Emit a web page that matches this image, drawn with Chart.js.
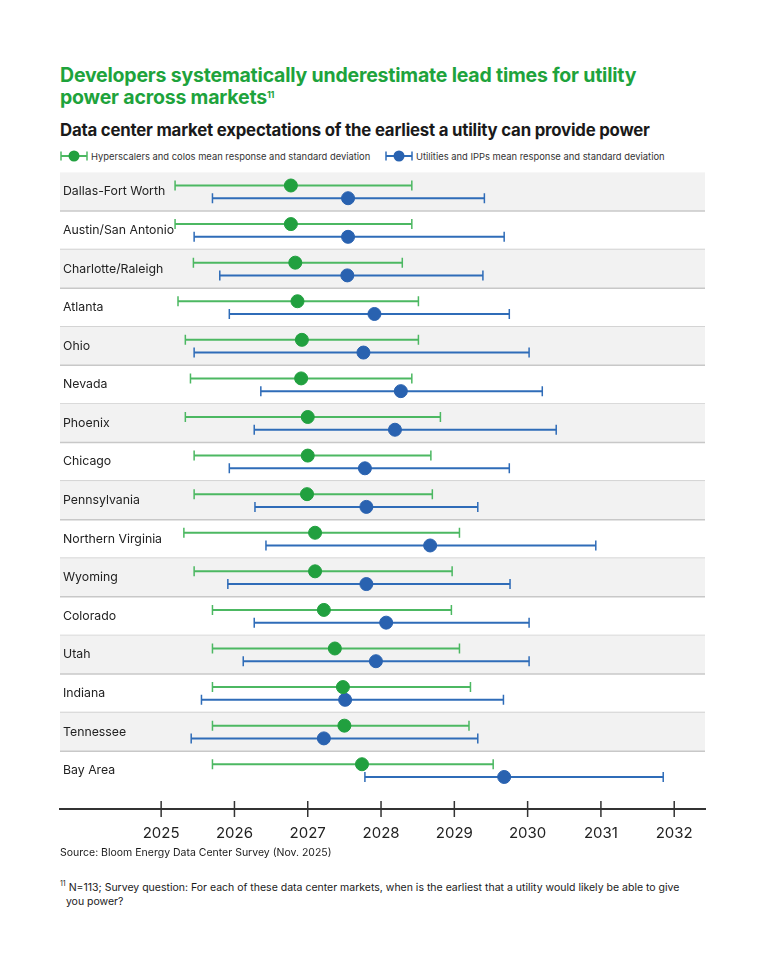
<!DOCTYPE html>
<html>
<head>
<meta charset="utf-8">
<script src="https://cdn.jsdelivr.net/npm/chart.js@4.4.1/dist/chart.umd.min.js"></script>
<style>
  body { margin: 0; background: #fff; font-family: Inter, "Noto Sans", sans-serif; color: #1a1a1a; }
  #page { position: relative; width: 760px; height: 972px; }
  h1 { position: absolute; left: 60px; top: 64px; margin: 0; font-size: 19.5px; line-height: 22px; font-weight: 700; color: #1ea33c; letter-spacing: -0.2px; width: 690px; }
  h1 sup { font-size: 9px; vertical-align: top; position: relative; top: -2px; }
  h2 { position: absolute; left: 60px; top: 119px; margin: 0; font-size: 16.8px; line-height: 22px; font-weight: 700; color: #1a1a1a; letter-spacing: -0.2px; }
  .legend { position: absolute; top: 150px; font-size: 9.4px; color: #333; display: flex; align-items: center; white-space: nowrap; }
  .legend svg { margin-right: 3px; }
  #wrap { position: absolute; left: 0; top: 162px; width: 760px; height: 700px; }
  .source { position: absolute; left: 60px; top: 846px; font-size: 10.5px; color: #1a1a1a; }
  .note { position: absolute; left: 60px; top: 877px; font-size: 10.5px; line-height: 14px; color: #1a1a1a; width: 680px; }
  .note sup { font-size: 7px; }
</style>
</head>
<body>
<div id="page">
  <h1>Developers systematically underestimate lead times for utility<br>power across markets<sup>11</sup></h1>
  <h2>Data center market expectations of the earliest a utility can provide power</h2>
  <div class="legend" style="left:60px">
    <svg width="28" height="12"><line x1="1" y1="6" x2="27" y2="6" stroke="#4cb862" stroke-width="2"/><line x1="1" y1="1.5" x2="1" y2="10.5" stroke="#4cb862" stroke-width="1.5"/><line x1="27" y1="1.5" x2="27" y2="10.5" stroke="#4cb862" stroke-width="1.5"/><circle cx="14" cy="6" r="5.5" fill="#21a03f"/></svg>
    Hyperscalers and colos mean response and standard deviation
  </div>
  <div class="legend" style="left:385px">
    <svg width="28" height="12"><line x1="1" y1="6" x2="27" y2="6" stroke="#2f6cb8" stroke-width="2"/><line x1="1" y1="1.5" x2="1" y2="10.5" stroke="#2f6cb8" stroke-width="1.5"/><line x1="27" y1="1.5" x2="27" y2="10.5" stroke="#2f6cb8" stroke-width="1.5"/><circle cx="14" cy="6" r="5.5" fill="#2962b0"/></svg>
    Utilities and IPPs mean response and standard deviation
  </div>
  <div id="wrap"><canvas id="myChart"></canvas></div>
  <div class="source">Source: Bloom Energy Data Center Survey (Nov. 2025)</div>
  <div class="note"><sup>11</sup> N=113; Survey question: For each of these data center markets, when is the earliest that a utility would likely be able to give<br>&nbsp;&nbsp;you power?</div>
</div>
<script>
var markets = ['Dallas-Fort Worth', 'Austin/San Antonio', 'Charlotte/Raleigh', 'Atlanta', 'Ohio', 'Nevada',
  'Phoenix', 'Chicago', 'Pennsylvania', 'Northern Virginia', 'Wyoming', 'Colorado', 'Utah', 'Indiana',
  'Tennessee', 'Bay Area'];

// hyperscalers and colos
var hyperMean = [2026.77, 2026.77, 2026.83, 2026.86, 2026.92, 2026.91, 2027.0, 2027.0, 2026.99, 2027.10, 2027.10, 2027.22, 2027.37, 2027.48, 2027.50, 2027.74];
var hyperLow  = [2025.19, 2025.19, 2025.44, 2025.23, 2025.33, 2025.40, 2025.33, 2025.45, 2025.45, 2025.31, 2025.45, 2025.70, 2025.70, 2025.70, 2025.70, 2025.70];
var hyperHigh = [2028.42, 2028.42, 2028.29, 2028.51, 2028.51, 2028.42, 2028.81, 2028.68, 2028.70, 2029.07, 2028.97, 2028.96, 2029.07, 2029.22, 2029.20, 2029.53];

// utilities and IPPs
var utilMean = [2027.55, 2027.55, 2027.54, 2027.91, 2027.76, 2028.27, 2028.19, 2027.78, 2027.80, 2028.67, 2027.80, 2028.07, 2027.93, 2027.51, 2027.22, 2029.68];
var utilLow  = [2025.70, 2025.45, 2025.80, 2025.93, 2025.45, 2026.36, 2026.27, 2025.93, 2026.28, 2026.43, 2025.91, 2026.27, 2026.12, 2025.55, 2025.41, 2027.78];
var utilHigh = [2029.41, 2029.68, 2029.39, 2029.75, 2030.02, 2030.20, 2030.39, 2029.75, 2029.32, 2030.93, 2029.76, 2030.02, 2030.02, 2029.67, 2029.32, 2031.85];

var years = [2025, 2026, 2027, 2028, 2029, 2030, 2031, 2032];

var GREEN = '#21a03f', GREEN_LINE = '#4cb862';
var BLUE = '#2962b0', BLUE_LINE = '#2f6cb8';

function points(means, offset) {
  return means.map(function (m, i) { return { x: m, y: i + offset }; });
}

var rowsPlugin = {
  id: 'rows',
  beforeDraw: function (chart) {
    var ctx = chart.ctx, area = chart.chartArea, y = chart.scales.y;
    ctx.save();
    for (var i = 0; i < markets.length; i++) {
      var top = y.getPixelForValue(i - 0.5), bottom = y.getPixelForValue(i + 0.5);
      if (i % 2 === 0) {
        ctx.fillStyle = '#f2f2f2';
        ctx.fillRect(area.left, top, area.right - area.left, bottom - top);
      }
      if (i < markets.length - 1) {
        ctx.strokeStyle = '#c8c8c8';
        ctx.lineWidth = 1.5;
        ctx.beginPath();
        ctx.moveTo(area.left, bottom);
        ctx.lineTo(area.right, bottom);
        ctx.stroke();
      }
    }
    ctx.restore();
  },
  beforeDatasetsDraw: function (chart) {
    var ctx = chart.ctx, x = chart.scales.x, y = chart.scales.y;
    var series = [
      { low: hyperLow, high: hyperHigh, off: -0.16, color: GREEN_LINE },
      { low: utilLow, high: utilHigh, off: 0.17, color: BLUE_LINE }
    ];
    ctx.save();
    series.forEach(function (s) {
      ctx.strokeStyle = s.color;
      for (var i = 0; i < markets.length; i++) {
        var py = y.getPixelForValue(i + s.off);
        var x1 = x.getPixelForValue(s.low[i]), x2 = x.getPixelForValue(s.high[i]);
        ctx.lineWidth = 2;
        ctx.beginPath();
        ctx.moveTo(x1, py); ctx.lineTo(x2, py);
        ctx.stroke();
        ctx.lineWidth = 1.5;
        ctx.beginPath();
        ctx.moveTo(x1, py - 5); ctx.lineTo(x1, py + 5);
        ctx.moveTo(x2, py - 5); ctx.lineTo(x2, py + 5);
        ctx.stroke();
      }
    });
    ctx.restore();
  },
  afterDraw: function (chart) {
    var ctx = chart.ctx, x = chart.scales.x, bottom = chart.chartArea.bottom;
    ctx.save();
    ctx.strokeStyle = '#333';
    ctx.lineWidth = 1.5;
    years.forEach(function (yr) {
      var px = x.getPixelForValue(yr);
      ctx.beginPath();
      ctx.moveTo(px, bottom - 8); ctx.lineTo(px, bottom + 8);
      ctx.stroke();
    });
    ctx.restore();
  }
};

new Chart(document.getElementById('myChart'), {
  type: 'scatter',
  data: {
    datasets: [{
      label: 'Hyperscalers and colos mean response and standard deviation',
      data: points(hyperMean, -0.16),
      backgroundColor: GREEN,
      borderColor: GREEN,
      pointRadius: 6.5,
      pointHoverRadius: 6.5
    }, {
      label: 'Utilities and IPPs mean response and standard deviation',
      data: points(utilMean, 0.17),
      backgroundColor: BLUE,
      borderColor: BLUE,
      pointRadius: 6.5,
      pointHoverRadius: 6.5
    }]
  },
  options: {
    responsive: true,
    maintainAspectRatio: false,
    animation: false,
    layout: { padding: { left: 54, right: 55, top: 5, bottom: 13 } },
    plugins: {
      legend: { display: false },
      tooltip: { enabled: false }
    },
    scales: {
      x: {
        type: 'linear',
        min: 2023.62,
        max: 2032.42,
        afterBuildTicks: function (scale) {
          scale.ticks = years.map(function (v) { return { value: v }; });
        },
        ticks: {
          callback: function (v) { return String(v); },
          font: { family: 'Inter', size: 15 },
          color: '#222',
          padding: 7,
          maxRotation: 0
        },
        grid: { display: false },
        border: { display: true, color: '#333', width: 2 }
      },
      y: {
        type: 'linear',
        reverse: true,
        min: -0.5,
        max: 16,
        afterBuildTicks: function (scale) {
          scale.ticks = markets.map(function (m, i) { return { value: i }; });
        },
        ticks: {
          mirror: true,
          padding: 3,
          callback: function (v) { return markets[v]; },
          font: { family: 'Inter', size: 12.3 },
          color: '#222'
        },
        grid: { display: false, drawTicks: false },
        border: { display: false }
      }
    }
  },
  plugins: [rowsPlugin]
});
</script>
</body>
</html>
